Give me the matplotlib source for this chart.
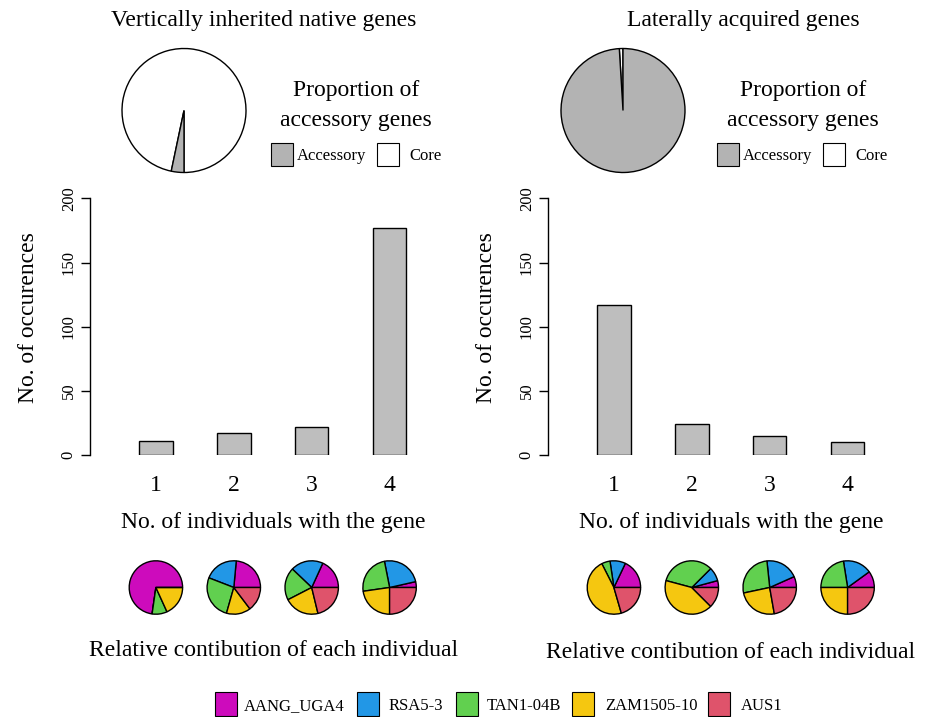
import matplotlib
matplotlib.use('Agg')
import matplotlib.pyplot as plt
from matplotlib.patches import Rectangle
import numpy as np

plt.rcParams['font.family'] = ['Liberation Serif', 'DejaVu Serif']

# data
individuals = ['AANG_UGA4', 'RSA5-3', 'TAN1-04B', 'ZAM1505-10', 'AUS1']
indColors = ['#CD0BBC', '#2297E6', '#61D04F', '#F5C710', '#DF536B']
nInd = [1, 2, 3, 4]
occ_native = [11, 17, 22, 177]
occ_lateral = [117, 24, 15, 10]
# counts per individual (AANG, RSA, TAN, ZAM, AUS) for each number of individuals
contrib_native = [[8, 0, 1, 2, 0],
                  [8, 7, 9, 5, 5],
                  [12, 13, 13, 14, 14],
                  [25, 174, 171, 161, 177]]
contrib_lateral = [[21, 11, 6, 55, 24],
                   [2, 4, 16, 20, 6],
                   [3, 9, 12, 11, 10],
                   [4, 7, 9, 10, 10]]
# proportion of accessory genes: [core, accessory]
prop_native = [0.967, 0.033]
prop_lateral = [0.0095, 0.9905]
accColor, coreColor = '#B3B3B3', 'white'

W, H = 932, 717
fig = plt.figure(figsize=(W/100, H/100), dpi=100)

def pxAxes(x0, y0, x1, y1):
    return fig.add_axes([x0/W, 1 - y1/H, (x1 - x0)/W, (y1 - y0)/H])

def pxText(x, y, s, size=17, ha='center', va='center', **kw):
    # small offset: matplotlib centres on the full box (with descent)
    if kw.get('rotation') == 90:
        x += 3
    else:
        y += 2.5
    fig.text(x/W, 1 - y/H, s, fontsize=size, ha=ha, va=va, **kw)

def pxRect(x0, y0, x1, y1, color):
    fig.patches.append(Rectangle((x0/W, 1 - y1/H), (x1 - x0)/W, (y1 - y0)/H, transform=fig.transFigure,
                                 facecolor=color, edgecolor='black', lw=0.8))

def drawPie(cx, cy, r, vals, colors, start=0):
    ax = pxAxes(cx - r, cy - r, cx + r, cy + r)
    wedges, _ = ax.pie(vals, colors=colors, startangle=start, counterclock=True,
                       wedgeprops=dict(edgecolor='black', linewidth=1.0))
    for w in wedges:
        w.set_clip_on(False)
    ax.set_xlim(-1, 1)
    ax.set_ylim(-1, 1)
    ax.set_aspect('equal')
    ax.axis('off')

def barPanel(xshift, occ, contribs, title, titleX, propVals, propStart, pieX, propX, legX):
    # bar chart
    ax = pxAxes(90 + xshift, 198.3, 440 + xshift, 455.3)
    spacing = 77.9
    ax.bar(nInd, occ, width=33.5/spacing, color='#BEBEBE', edgecolor='black', linewidth=1.0)
    ax.set_xlim(1 - 65.9/spacing, 1 + (440 - 90 - 65.9)/spacing)
    ax.set_ylim(0, 200)
    for s in ['top', 'right', 'bottom']:
        ax.spines[s].set_visible(False)
    ax.spines['left'].set_linewidth(1.0)
    ax.set_yticks([0, 50, 100, 150, 200])
    ax.set_yticklabels(['0', '50', '100', '150', '200'], rotation=90, va='center', fontsize=12)
    ax.tick_params(axis='y', length=6.5, width=1.0, pad=3)
    ax.set_xticks(nInd)
    ax.set_xticklabels([str(n) for n in nInd], fontsize=17)
    ax.tick_params(axis='x', length=0, pad=14)
    ax.patch.set_alpha(0)
    pxText(26 + xshift, 317.5, 'No. of occurences', rotation=90)
    pxText(273 + xshift, 520, 'No. of individuals with the gene')

    # small pies
    for n, vals in zip(nInd, contribs):
        cx = 155.9 + xshift + (n - 1)*spacing
        drawPie(cx, 587.5, 26.7, vals, indColors)

    # top pie + legend
    drawPie(pieX, 110.5, 62, propVals, [coreColor, accColor], start=propStart)
    pxText(titleX, 18, title)
    pxText(propX, 88, 'Proportion of')
    pxText(propX, 118, 'accessory genes')
    pxRect(legX, 143, legX + 22, 166, accColor)
    pxText(legX + 26, 154, 'Accessory', size=12, ha='left')
    pxRect(legX + 106, 143, legX + 128, 166, coreColor)
    pxText(legX + 138, 154, 'Core', size=12, ha='left')

barPanel(0, occ_native, contrib_native, 'Vertically inherited native genes', 263.5,
         prop_native, 270, 184, 356, 271)
barPanel(458, occ_lateral, contrib_lateral, 'Laterally acquired genes', 743,
         prop_lateral, 90, 623, 803, 717)

pxText(274, 648, 'Relative contibution of each individual')
pxText(731, 650, 'Relative contibution of each individual')

# bottom legend
sqX = [215, 357, 456, 572, 708]
txtX = [244, 389, 487, 605, 741]
for name, col, sx, tx in zip(individuals, indColors, sqX, txtX):
    pxRect(sx, 692, sx + 22, 716, col)
    pxText(tx, 704, name, size=12, ha='left')

fig.savefig('out.png', dpi=100)
